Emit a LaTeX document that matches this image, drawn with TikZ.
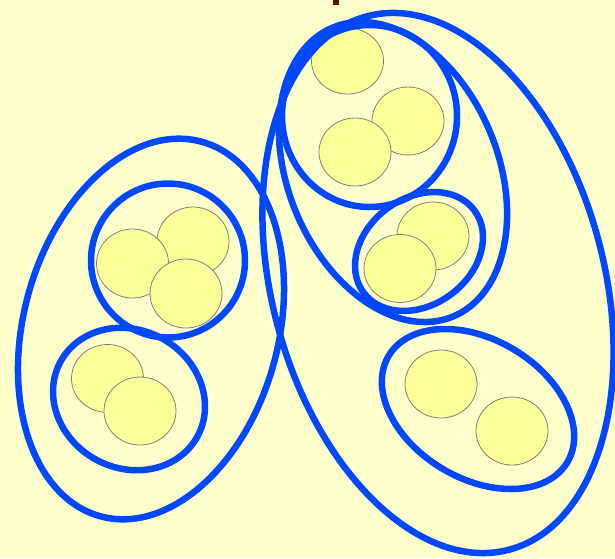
\documentclass[tikz,border=0pt]{standalone}
\usetikzlibrary{shapes.geometric}
\definecolor{bg}{RGB}{255,255,204}
\definecolor{ballfill}{RGB}{255,255,153}
\definecolor{ballline}{RGB}{128,128,128}
\definecolor{ringblue}{RGB}{0,72,255}
\definecolor{darkbrown}{RGB}{90,22,0}
\tikzset{
  ball/.style={ellipse, draw=ballline, line width=0.8pt, fill=ballfill,
    inner sep=0pt, minimum width=72pt, minimum height=68pt},
  ring/.style={ellipse, draw=ringblue, line width=6.5pt, inner sep=0pt}
}
\begin{document}
\begin{tikzpicture}[x=1pt,y=-1pt]
\useasboundingbox (0,0) rectangle (615,558);
\fill[bg] (0,0) rectangle (615,558);
\fill[darkbrown] (332.5,0) rectangle (338.5,5.3);
% balls
\node[ball, minimum height=69pt] (c2) at (193,241.5) {};
\node[ball, minimum height=69pt] (c1) at (132.5,263.5) {};
\node[ball, minimum height=69pt] (c3) at (186,293.5) {};
\node[ball] (c4) at (107.5,378.5) {};
\node[ball] (c5) at (140,411) {};
\node[ball, minimum height=66pt] (c6) at (347.5,61) {};
\node[ball] (c7) at (408,121) {};
\node[ball] (c8) at (355,152) {};
\node[ball] (c9) at (433,236) {};
\node[ball] (c10) at (400,268.5) {};
\node[ball] (c12) at (441,384) {};
\node[ball] (c13) at (512,431) {};
% rings
\node[ring, minimum width=255pt, minimum height=388pt, rotate=-15] (g1) at (151,329) {};
\node[ring, minimum width=154pt, minimum height=154pt] (g2) at (168,260.5) {};
\node[ring, minimum width=156pt, minimum height=138pt, rotate=-29] (g3) at (129,399) {};
\node[ring, minimum width=332pt, minimum height=552pt, rotate=15] (g4) at (438,283) {};
\node[ring, minimum width=210pt, minimum height=313pt, rotate=22.6] (g5) at (393,172) {};
\node[ring, minimum width=175pt, minimum height=182pt] (g6) at (369.5,116) {};
\node[ring, minimum width=138pt, minimum height=107pt, rotate=36.4] (g7) at (419,251.5) {};
\node[ring, minimum width=208pt, minimum height=139pt, rotate=-30.8] (g8) at (478,409) {};
\end{tikzpicture}
\end{document}
